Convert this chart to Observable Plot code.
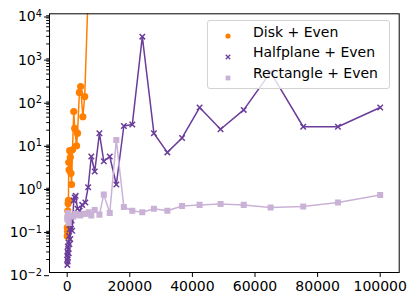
<!DOCTYPE html>
<html><head><meta charset="utf-8">
<script src="https://cdn.jsdelivr.net/npm/d3@7"></script>
<script src="https://cdn.jsdelivr.net/npm/@observablehq/plot@0.6"></script>
<style>
body{margin:0;background:#fff;}
#wrap{position:relative;width:415px;height:301px;font-family:"DejaVu Sans",sans-serif;}
#legend{position:absolute;left:206.5px;top:20px;width:183px;height:69px;box-sizing:border-box;border:1px solid #d3d3d3;border-radius:3px;background:rgba(255,255,255,0.8);}
.lt{position:absolute;left:253px;font-size:14px;line-height:16px;color:#000;white-space:nowrap;}
.lm{position:absolute;left:222px;width:12px;height:12px;}
</style></head><body><div id="wrap"></div>
<script>
// Disk + Even
const diskX = [20, 50, 100, 200, 300, 400, 500, 600, 800, 1000, 1200, 1400, 1700, 2100, 2400, 3000, 3300, 3900, 4300, 5000, 5600, 6800];
const diskY = [0.07, 0.11, 0.09, 0.27, 0.40, 0.47, 3.6, 2.4, 6.7, 4.7, 2.0, 1.1, 7.0, 54, 22, 8.7, 17, 150, 206, 41, 120, 50000];
// Halfplane + Even
const halfX = [20, 50, 80, 100, 150, 200, 250, 300, 400, 500, 600, 700, 800, 1000, 1200, 1400, 1600, 2100, 2400, 2700, 3300, 4000, 4800, 5800, 6700, 7700, 8800, 10300, 11700, 13600, 15700, 18100, 20800, 24000, 27700, 32000, 36700, 42300, 49000, 56400, 65000, 75400, 86500, 100000];
const halfY = [0.02, 0.015, 0.025, 0.03, 0.018, 0.04, 0.022, 0.035, 0.05, 0.028, 0.07, 0.045, 0.1, 0.06, 0.13, 0.16, 0.093, 0.47, 0.55, 0.6, 0.3, 0.27, 0.37, 0.42, 0.95, 4.9, 2.2, 16.9, 3.8, 4.9, 1.1, 25, 27, 2950, 17, 6.1, 13.2, 67, 21, 59, 440, 24, 24, 67];
// Rectangle + Even
const rectX = [20, 100, 300, 500, 800, 1300, 2000, 2700, 3400, 4200, 5300, 6100, 6900, 7700, 8800, 10300, 11700, 13600, 15700, 18100, 20800, 24000, 27700, 32000, 36700, 42300, 49000, 56400, 65000, 75400, 86500, 100000];
const rectY = [0.19, 0.17, 0.24, 0.14, 0.2, 0.21, 0.2, 0.23, 0.22, 0.21, 0.23, 0.23, 0.25, 0.21, 0.28, 0.22, 0.64, 0.24, 11.9, 0.33, 0.27, 0.25, 0.30, 0.27, 0.35, 0.37, 0.39, 0.37, 0.32, 0.34, 0.42, 0.63];

const seriesNames = ["Disk + Even", "Halfplane + Even", "Rectangle + Even"];
const colors = ["#ff7f00", "#6a3d9a", "#cab2d6"];
const xTicks = [0, 20000, 40000, 60000, 80000, 100000];
const yTicks = [1e-2, 1e-1, 1e0, 1e1, 1e2, 1e3, 1e4];
const yTickExp = ["-2", "-1", "0", "1", "2", "3", "4"];

const toRows = (xs, ys) => xs.map((x, i) => ({x, y: ys[i]}));
const disk = toRows(diskX, diskY);
const half = toRows(halfX, halfY);
const rect = toRows(rectX, rectY);

const minorTicks = [];
for (let e = -2; e < 4; e++) for (let m = 2; m <= 9; m++) minorTicks.push(m * Math.pow(10, e));

const chart = Plot.plot({
  width: 415, height: 301,
  marginLeft: 49, marginRight: 16.3, marginTop: 13.3, marginBottom: 29,
  style: {fontFamily: "DejaVu Sans", fontSize: "14px", color: "#000", background: "#fff"},
  x: {domain: [-5650, 106070], axis: null},
  y: {type: "log", domain: [1e-2, 1e4], axis: null},
  marks: [
    Plot.line(disk, {x: "x", y: "y", stroke: colors[0], strokeWidth: 1.5, clip: true}),
    Plot.dot(disk, {x: "x", y: "y", r: 3.6, fill: colors[0], symbol: "circle", clip: true}),
    Plot.line(half, {x: "x", y: "y", stroke: colors[1], strokeWidth: 1.5, clip: true}),
    Plot.dot(half, {x: "x", y: "y", r: 2.6, stroke: colors[1], strokeWidth: 1.5, symbol: "times", clip: true}),
    Plot.line(rect, {x: "x", y: "y", stroke: colors[2], strokeWidth: 1.5, clip: true}),
    Plot.dot(rect, {x: "x", y: "y", r: 3.4, fill: colors[2], symbol: "square", clip: true}),
    Plot.axisX({ticks: xTicks, tickFormat: d3.format("d"), tickSize: 5, tickPadding: 3.3, anchor: "bottom", label: null}),
    Plot.axisY({ticks: yTicks, tickFormat: (d) => "10^" + yTickExp[yTicks.indexOf(d)], tickSize: 5, tickPadding: 2.5, dy: 3.2, anchor: "left", label: null}),
    Plot.axisY({ticks: minorTicks, tickFormat: () => "", tickSize: 2.8, anchor: "left", label: null}),
    Plot.frame({stroke: "#000", strokeWidth: 1})
  ]
});

// render math-like superscripts on y tick labels
chart.querySelectorAll('[aria-label="y-axis tick label"] text').forEach(t => {
  const s = t.textContent;
  if (!s.includes("^")) return;
  const [b, e] = s.split("^");
  t.textContent = b;
  const ts = document.createElementNS("http://www.w3.org/2000/svg", "tspan");
  ts.setAttribute("dy", "-4.5");
  ts.setAttribute("font-size", "9.8");
  ts.textContent = e.replace("-", "\u2212");
  t.appendChild(ts);
});

const wrap = document.getElementById("wrap");
wrap.appendChild(chart);

// legend
const legend = document.createElement("div");
legend.id = "legend";
wrap.appendChild(legend);
const baselines = [36.6, 57.3, 78.0];
const symbols = [
  c => `<circle cx="6" cy="6" r="2.6" fill="${c}"/>`,
  c => `<path d="M3.8,3.8L8.2,8.2M3.8,8.2L8.2,3.8" stroke="${c}" stroke-width="1.3"/>`,
  c => `<rect x="3.6" y="3.6" width="4.8" height="4.8" fill="${c}"/>`
];
seriesNames.forEach((name, i) => {
  const m = document.createElement("div");
  m.className = "lm";
  m.style.top = (baselines[i] - 3.5 - 6) + "px";
  m.innerHTML = `<svg width="12" height="12">${symbols[i](colors[i])}</svg>`;
  wrap.appendChild(m);
  const t = document.createElement("div");
  t.className = "lt";
  t.style.top = (baselines[i] - 12.85) + "px";
  t.textContent = name;
  wrap.appendChild(t);
});
</script>
</body></html>
